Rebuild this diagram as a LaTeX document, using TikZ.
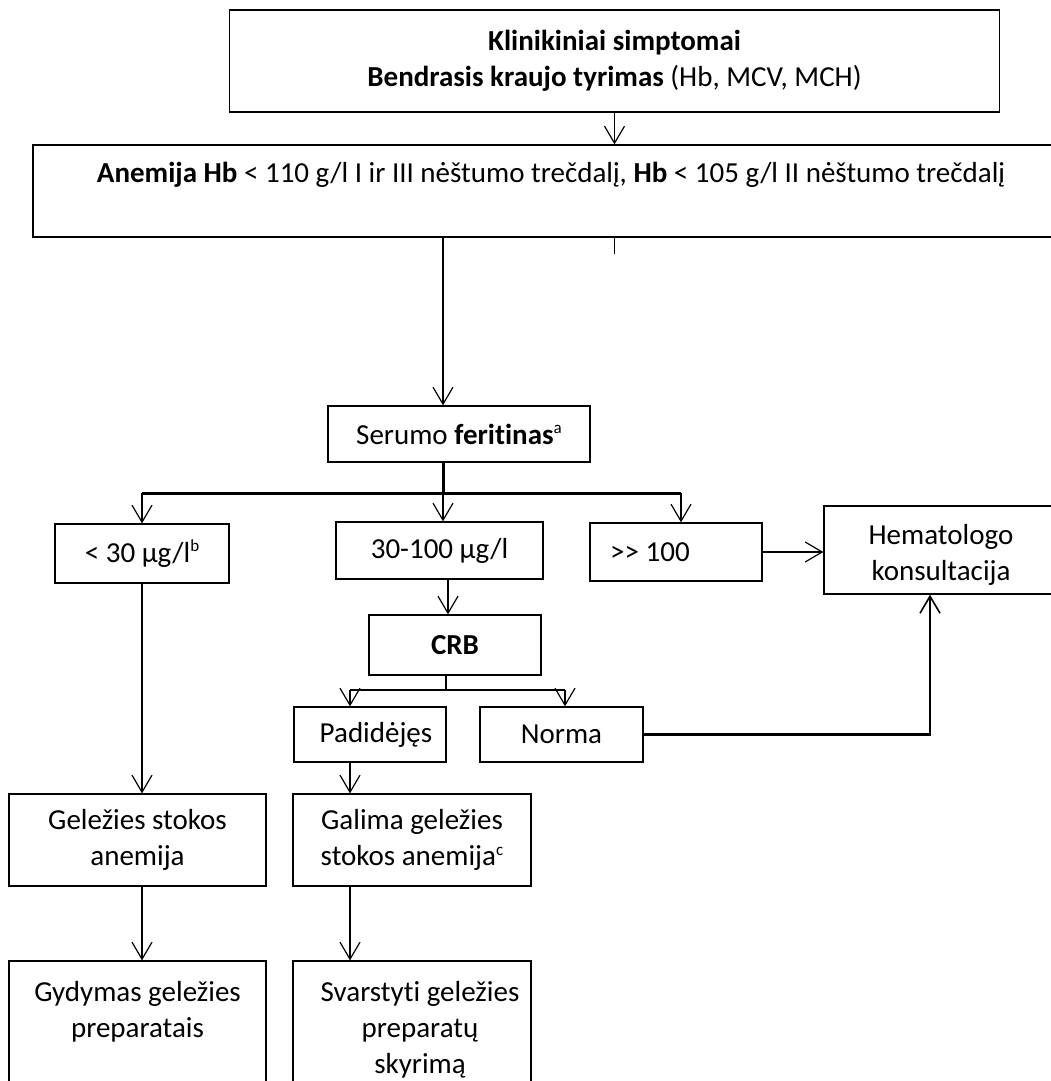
\documentclass[tikz,border=0pt]{standalone}
\usepackage{fontspec}
\setmainfont[Ligatures=NoCommon]{Carlito}
\usetikzlibrary{arrows.meta}
\newcommand{\supr}[1]{\raisebox{0.75ex}{\fontsize{17}{17}\selectfont #1}}
\begin{document}
\begin{tikzpicture}[x=1pt,y=-1pt,
  box/.style={draw, line width=1.3pt, rectangle, inner sep=0pt, align=center,
    font=\fontsize{29}{36}\selectfont},
  lbl/.style={inner sep=0pt, align=center, font=\fontsize{29}{36}\selectfont},
  conn/.style={line width=1.2pt},
  arr/.style={line width=1.2pt, -{Straight Barb[length=17pt,width=20pt,line width=1.2pt]}},
  thk/.style={line width=3pt},
]
\useasboundingbox (0,0) rectangle (1051,1081);
\fill[white] (0,0) rectangle (1051,1081);
\clip (0,0) rectangle (1051,1081);

% boxes
\node[box, minimum width=770pt, minimum height=102pt] (top) at (614.5,61)
  {\textbf{Klinikiniai simptomai}\\\textbf{Bendrasis kraujo tyrimas} (Hb, MCV, MCH)};
\node[box, minimum width=1037pt, minimum height=92pt] (anem) at (551.5,191) {};
\node[lbl] (anemtxt) at (551,175)
  {\textbf{Anemija Hb} < 110 g/l I ir III nėštumo trečdalį, \textbf{Hb} < 105 g/l II nėštumo trečdalį};
\node[box, minimum width=262pt, minimum height=56pt] (ser) at (459,434)
  {Serumo \textbf{feritinas}\supr{a}};
\node[box, minimum width=174pt, minimum height=59pt] (lt30) at (142,553.5)
  {< 30 µg/l\supr{b}};
\node[box, minimum width=207pt, minimum height=57pt] (mid) at (439.5,550.5)
  {30-100 µg/l};
\node[box, minimum width=172pt, minimum height=58pt] (gg) at (676,552) {};
\node[lbl, anchor=west] (ggtxt) at (610,552) {>{}> 100};
\node[box, minimum width=234pt, minimum height=88pt] (hem) at (941,550) {};
\node[lbl] (hemtxt) at (941,555) {Hematologo\\konsultacija};
\node[box, minimum width=172pt, minimum height=60pt] (crb) at (455,645)
  {\textbf{CRB}};
\node[box, minimum width=152pt, minimum height=55pt] (pad) at (370,734.5) {};
\node[lbl] (padtxt) at (376,734.5) {Padidėjęs};
\node[box, minimum width=163pt, minimum height=55pt] (norma) at (561.5,734.5)
  {Norma};
\node[box, minimum width=257pt, minimum height=92pt] (gel) at (137.5,840)
  {Geležies stokos\\anemija};
\node[box, minimum width=238pt, minimum height=92pt] (gal) at (412,840)
  {Galima geležies\\stokos anemija\supr{c}};
\node[box, minimum width=257pt, minimum height=139pt] (gyd) at (137.5,1030.5) {};
\node[lbl] (gydtxt) at (137.5,1012) {Gydymas geležies\\preparatais};
\node[box, minimum width=238pt, minimum height=139pt] (sva) at (412,1030.5) {};
\node[lbl] (svatxt) at (420,1029.5) {Svarstyti geležies\\preparatų\\skyrimą};

% helper coordinates
\coordinate (xa) at (443,0);
\coordinate (h1) at (142,493);
\coordinate (h2) at (443,493);
\coordinate (h3) at (681,493);
\coordinate (xm) at (448,0);
\coordinate (c0) at (446,690);
\coordinate (c1) at (350,690);
\coordinate (c2) at (565,690);
\coordinate (xh) at (930,0);

% connectors
\draw[arr] (top.south) -- (top.south |- anem.north);
\draw[conn] (anem.south -| top.south) -- ++(0,16);
\draw[arr] (anem.south -| xa) -- (ser.north -| xa);

\draw[thk] (ser.south -| h2) -- (h2);
\draw[thk] (h1) -- (h3);
\draw[arr] (h1) -- (h1 |- lt30.north);
\draw[arr] (h2) -- (h2 |- mid.north);
\draw[arr] (h3) -- (h3 |- gg.north);

\draw[arr] (gg.east) -- (gg.east -| hem.west);

\draw[arr] (mid.south -| xm) -- (crb.north -| xm);
\draw[line width=1.6pt] (crb.south -| c0) -- (c0);
\draw[line width=2pt] (c1) -- (c2);
\draw[arr] (c1) -- (c1 |- pad.north);
\draw[arr] (c2) -- (c2 |- norma.north);

\draw[line width=2.6pt, -{Straight Barb[length=17pt,width=20pt,line width=1.6pt]}]
  (norma.east) -- (norma.east -| xh) -- (xh |- hem.south);

\draw[arr] (lt30.south) -- (lt30.south |- gel.north);
\draw[arr] (pad.south -| c1) -- (gal.north -| c1);
\draw[arr] (gel.south -| h1) -- (gyd.north -| h1);
\draw[arr] (gal.south -| c1) -- (sva.north -| c1);
\end{tikzpicture}
\end{document}
